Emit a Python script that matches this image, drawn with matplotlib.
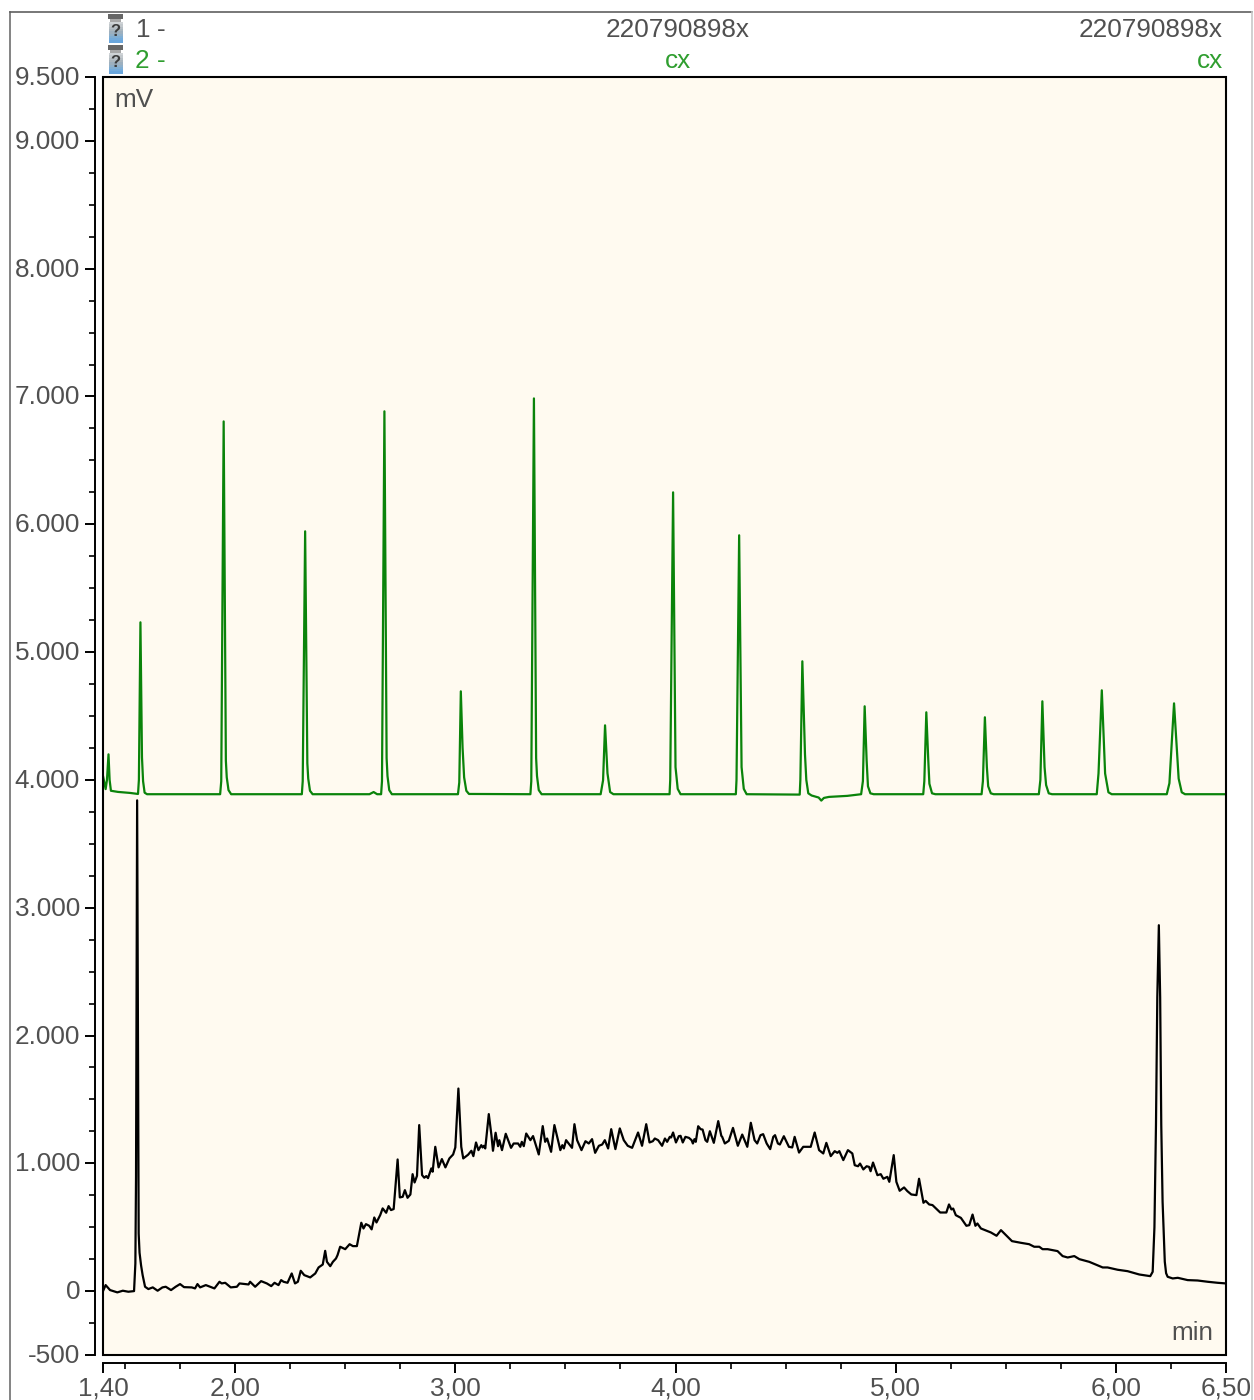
import matplotlib
matplotlib.use('Agg')
import matplotlib.pyplot as plt
from matplotlib.patches import Rectangle
from matplotlib.ticker import FixedLocator, FixedFormatter
from matplotlib.transforms import ScaledTranslation

plt.rcParams['font.family'] = ['Liberation Sans', 'DejaVu Sans']

W, H = 1254, 1400

# trace 1 (black), time in min and signal in mV
black_time = [
    1.400, 1.412, 1.432, 1.465, 1.490, 1.515, 1.541, 1.547, 1.550, 1.555, 1.559, 1.562, 1.566, 1.573, 1.580, 1.591,
    1.606, 1.626, 1.648, 1.670, 1.685, 1.709, 1.730, 1.750, 1.768, 1.803, 1.818, 1.829, 1.841, 1.867,
    1.906, 1.929, 1.939, 1.955, 1.980, 2.008, 2.020, 2.061, 2.068, 2.091, 2.118, 2.144, 2.164, 2.179,
    2.197, 2.209, 2.220, 2.238, 2.257, 2.272, 2.285, 2.298, 2.314, 2.341, 2.364, 2.379, 2.398, 2.409,
    2.417, 2.432, 2.444, 2.458, 2.465, 2.477, 2.500, 2.520, 2.535, 2.553, 2.565,
    2.573, 2.583, 2.594, 2.609, 2.620, 2.632, 2.642, 2.659, 2.670, 2.686, 2.697, 2.708, 2.720, 2.738,
    2.748, 2.761, 2.771, 2.783, 2.796, 2.806, 2.815, 2.826, 2.836, 2.849, 2.859, 2.868, 2.876, 2.891,
    2.897, 2.909, 2.924, 2.939, 2.955, 2.973, 2.990, 3.000, 3.014, 3.027, 3.036, 3.058, 3.073, 3.082,
    3.094, 3.105, 3.118, 3.124, 3.130, 3.136, 3.152, 3.164, 3.171, 3.183, 3.194, 3.200, 3.212, 3.229,
    3.253, 3.265, 3.285, 3.295, 3.302, 3.311, 3.322, 3.341, 3.353, 3.379, 3.397, 3.408, 3.417, 3.435,
    3.450, 3.477, 3.486, 3.493, 3.503, 3.530, 3.541, 3.553, 3.573, 3.591, 3.606, 3.621, 3.635, 3.652,
    3.667, 3.679, 3.694, 3.708, 3.727, 3.747, 3.765, 3.783, 3.803, 3.830, 3.848, 3.867, 3.882, 3.897,
    3.906, 3.921, 3.939, 3.952, 3.962, 3.974, 3.980, 3.989, 4.002, 4.015, 4.023, 4.033, 4.045, 4.061,
    4.073, 4.079, 4.086, 4.092, 4.103, 4.114, 4.123, 4.136, 4.144, 4.156, 4.174, 4.194, 4.208, 4.212,
    4.224, 4.242, 4.261, 4.283, 4.303, 4.326, 4.342, 4.359, 4.371, 4.386, 4.398, 4.414, 4.430, 4.444,
    4.452, 4.465, 4.474, 4.492, 4.515, 4.530, 4.541, 4.561, 4.580, 4.614, 4.632, 4.652, 4.671, 4.685,
    4.705, 4.723, 4.735, 4.744, 4.762, 4.783, 4.803, 4.814, 4.829, 4.838, 4.853, 4.868, 4.879, 4.886,
    4.897, 4.917, 4.932, 4.944, 4.962, 4.971, 4.991, 5.003, 5.018, 5.038, 5.053, 5.071, 5.094, 5.106,
    5.126, 5.136, 5.152, 5.167, 5.202, 5.230, 5.242, 5.253, 5.261, 5.273, 5.296, 5.321, 5.334, 5.349,
    5.362, 5.371, 5.387, 5.432, 5.458, 5.478, 5.528, 5.568, 5.606, 5.629, 5.652, 5.667, 5.690, 5.735,
    5.758, 5.781, 5.811, 5.834, 5.879, 5.940, 5.962, 6.008, 6.053, 6.106, 6.156, 6.167, 6.175, 6.182,
    6.188, 6.195, 6.201, 6.206, 6.212, 6.222, 6.228, 6.235, 6.258, 6.281, 6.326, 6.371, 6.417, 6.462, 6.500,
]
black_mv = [
    0, 47, 8, -10, 3, -5, 0, 216, 900, 3840, 2000, 450, 300, 200, 125, 34,
    16, 29, 3, 29, 34, 8, 34, 55, 31, 29, 21, 55, 29, 47,
    21, 73, 60, 65, 29, 34, 60, 52, 73, 34, 78, 60, 39, 65,
    47, 86, 73, 65, 138, 60, 73, 159, 125, 107, 138, 185, 208, 315,
    229, 195, 229, 255, 281, 347, 328, 367, 352, 352, 464,
    535, 490, 524, 511, 483, 576, 537, 595, 647, 613, 665, 634, 642, 1030,
    733, 738, 790, 730, 756, 915, 850, 902, 1299, 908, 887, 900, 884, 960,
    934, 1129, 968, 1033, 968, 1038, 1069, 1124, 1585, 1129, 1038, 1067, 1098, 1056,
    1163, 1103, 1142, 1124, 1137, 1116, 1385, 1220, 1098, 1239, 1134, 1181, 1103, 1231,
    1121, 1155, 1155, 1129, 1168, 1134, 1233, 1181, 1213, 1069, 1291, 1168, 1194, 1090,
    1299, 1103, 1142, 1116, 1181, 1121, 1306, 1181, 1103, 1173, 1155, 1189, 1082, 1137,
    1147, 1181, 1116, 1267, 1111, 1273, 1181, 1137, 1121, 1241, 1137, 1306, 1163, 1173,
    1194, 1181, 1137, 1194, 1168, 1207, 1202, 1241, 1163, 1212, 1215, 1163, 1207, 1199,
    1181, 1155, 1189, 1168, 1290, 1267, 1264, 1181, 1168, 1251, 1160, 1330, 1215, 1207,
    1155, 1176, 1277, 1137, 1225, 1129, 1317, 1181, 1155, 1220, 1228, 1155, 1111, 1207,
    1220, 1155, 1147, 1212, 1129, 1124, 1207, 1084, 1129, 1129, 1241, 1103, 1077, 1160,
    1056, 1095, 1082, 1095, 1025, 1103, 1077, 985, 977, 998, 952, 977, 972, 938,
    1006, 907, 915, 879, 894, 855, 1064, 855, 785, 811, 782, 756, 751, 879,
    691, 706, 678, 673, 615, 615, 678, 639, 646, 594, 573, 511, 516, 599,
    511, 529, 490, 459, 433, 477, 391, 378, 367, 347, 347, 328, 328, 313,
    274, 263, 274, 250, 229, 185, 185, 167, 156, 130, 117, 151, 500, 1300,
    2300, 2863, 2300, 1300, 700, 230, 140, 112, 99, 104, 86, 83, 73, 65, 60,
]

# trace 2 (green), time in min and signal in mV
green_time = [
    1.401, 1.412, 1.418, 1.425, 1.430, 1.436, 1.468, 1.523,
    1.559, 1.563, 1.570, 1.577, 1.582, 1.589, 1.600,
    1.932, 1.937, 1.948, 1.958, 1.962, 1.970, 1.982,
    2.303, 2.307, 2.318, 2.328, 2.332, 2.340, 2.352,
    2.610, 2.629, 2.645,
    2.663, 2.667, 2.678, 2.688, 2.692, 2.700, 2.712,
    3.012, 3.018, 3.025, 3.033, 3.040, 3.050, 3.062,
    3.341, 3.345, 3.357, 3.367, 3.371, 3.379, 3.392,
    3.660, 3.671, 3.680, 3.691, 3.703, 3.718,
    3.973, 3.976, 3.989, 4.000, 4.010, 4.023,
    4.274, 4.277, 4.289, 4.300, 4.310, 4.323,
    4.564, 4.567, 4.576, 4.588, 4.594, 4.603, 4.618, 4.636, 4.650, 4.662, 4.674, 4.697, 4.780, 4.843,
    4.851, 4.859, 4.868, 4.874, 4.885, 4.900,
    5.125, 5.130, 5.139, 5.148, 5.153, 5.165, 5.180,
    5.390, 5.396, 5.405, 5.414, 5.420, 5.432, 5.445,
    5.650, 5.657, 5.666, 5.676, 5.683, 5.695, 5.710,
    5.913, 5.921, 5.936, 5.951, 5.966, 5.981,
    6.231, 6.243, 6.264, 6.285, 6.299, 6.314, 6.500,
]
green_mv = [
    4023, 3928, 4000, 4200, 4000, 3915, 3906, 3898,
    3890, 4000, 5233, 4177, 3990, 3900, 3888,
    3888, 3990, 6805, 4150, 4020, 3920, 3888,
    3888, 3990, 5945, 4130, 4010, 3915, 3888,
    3888, 3905, 3888,
    3888, 3990, 6884, 4170, 4030, 3920, 3888,
    3888, 3980, 4693, 4250, 4020, 3915, 3890,
    3888, 3990, 6985, 4170, 4030, 3920, 3888,
    3888, 3997, 4427, 4052, 3905, 3888,
    3888, 4000, 6250, 4100, 3930, 3888,
    3888, 4000, 5914, 4100, 3930, 3888,
    3885, 4000, 4928, 4200, 4000, 3895, 3878, 3869, 3862, 3838, 3859, 3867, 3875, 3888,
    3990, 4576, 4150, 3950, 3895, 3888,
    3888, 3990, 4529, 4150, 3970, 3895, 3888,
    3888, 3990, 4490, 4100, 3950, 3895, 3888,
    3888, 4000, 4615, 4100, 3960, 3895, 3888,
    3888, 4050, 4701, 4050, 3903, 3888,
    3888, 3974, 4599, 4010, 3903, 3888, 3888,
]

y_major = [-500, 0, 1000, 2000, 3000, 4000, 5000, 6000, 7000, 8000, 9000, 9500]
y_labels = ['-500', '0', '1.000', '2.000', '3.000', '4.000', '5.000', '6.000', '7.000', '8.000', '9.000', '9.500']
y_minor = [-250, 250, 500, 750, 1250, 1500, 1750, 2250, 2500, 2750, 3250, 3500, 3750, 4250, 4500, 4750,
           5250, 5500, 5750, 6250, 6500, 6750, 7250, 7500, 7750, 8250, 8500, 8750, 9250]
x_major = [1.40, 2.00, 3.00, 4.00, 5.00, 6.00, 6.50]
x_labels = ['1,40', '2,00', '3,00', '4,00', '5,00', '6,00', '6,50']
x_minor = [1.50, 1.75, 2.25, 2.50, 2.75, 3.25, 3.50, 3.75, 4.25, 4.50, 4.75, 5.25, 5.50, 5.75, 6.25]

TEXT = '#505050'
GREEN = '#0a830a'
GREEN_TEXT = '#2f9e2f'
FS = 18.8

fig = plt.figure(figsize=(W / 100, H / 100), dpi=100, facecolor='white')

# plot area
ax = fig.add_axes([103 / W, 1 - 1355 / H, (1226 - 103) / W, (1355 - 77) / H], facecolor='#FFFAF0')
ax.plot(green_time, green_mv, color=GREEN, lw=1.6, solid_joinstyle='round')
ax.plot(black_time, black_mv, color='black', lw=1.6, solid_joinstyle='round')
ax.set_xlim(1.40, 6.50)
ax.set_ylim(-500, 9500)

for side in ['top', 'right']:
    ax.spines[side].set_visible(False)
for side in ['left', 'bottom']:
    ax.spines[side].set_position(('outward', 5.8))
    ax.spines[side].set_linewidth(1.4)

ax.yaxis.set_major_locator(FixedLocator(y_major))
ax.yaxis.set_major_formatter(FixedFormatter(y_labels))
ax.yaxis.set_minor_locator(FixedLocator(y_minor))
ax.xaxis.set_major_locator(FixedLocator(x_major))
ax.xaxis.set_major_formatter(FixedFormatter(x_labels))
ax.xaxis.set_minor_locator(FixedLocator(x_minor))
ax.tick_params(which='major', length=7.2, width=1.4, labelsize=FS, labelcolor=TEXT)
ax.tick_params(which='minor', length=4.3, width=1.2)
ax.tick_params(axis='y', which='major', pad=3.5)
ax.tick_params(axis='x', which='major', pad=2.2)

# the y labels sit a little above their ticks in the original
up = ScaledTranslation(0, 1.5 / 100, fig.dpi_scale_trans)
for lab in ax.get_yticklabels():
    lab.set_transform(lab.get_transform() + up)

# box around the plot area
ax.add_patch(Rectangle((0, 0), 1, 1, transform=ax.transAxes, fill=False, edgecolor='black', lw=1.5, clip_on=False, zorder=5))

# header and frame in pixel coordinates
over = fig.add_axes([0, 0, 1, 1], facecolor='none')
over.set_xlim(0, W)
over.set_ylim(H, 0)
over.axis('off')
over.plot([10, 10], [12, H], color='#6e6e6e', lw=1.2)
over.plot([10, 1252], [12, 12], color='#606060', lw=1.2)
over.plot([1252, 1252], [12, H], color='#c8c8c8', lw=1.2)

vial_shades = ['#cfd3d6', '#c2c8cc', '#b6bec4', '#aab6be', '#9db0bf', '#90b0c9', '#80aed3', '#74abdb', '#6aa6dc']


def vial(top):
    over.add_patch(Rectangle((108, top), 15, 5, color='#666666', lw=0))
    over.add_patch(Rectangle((110, top + 5), 11, 3, color='#a8a8a8', lw=0))
    for i, shade in enumerate(vial_shades):
        over.add_patch(Rectangle((108.5, top + 8 + i * 2.3), 14, 2.4, color=shade, lw=0))
    over.text(115.5, top + 17.5, '?', color='#3c3c3c', fontsize=12, fontweight='bold', ha='center', va='center')


vial(14)
vial(45)

over.text(136, 30, '1', color=TEXT, fontsize=FS, ha='left', va='center')
over.text(157, 30, '-', color=TEXT, fontsize=FS, ha='left', va='center')
over.text(135, 61, '2', color=GREEN_TEXT, fontsize=FS, ha='left', va='center')
over.text(157, 61, '-', color=GREEN_TEXT, fontsize=FS, ha='left', va='center')
over.text(678, 30, '220790898x', color=TEXT, fontsize=FS, ha='center', va='center')
over.text(1223, 30, '220790898x', color=TEXT, fontsize=FS, ha='right', va='center')
over.text(678, 61, 'cx', color=GREEN_TEXT, fontsize=FS, ha='center', va='center')
over.text(1223, 61, 'cx', color=GREEN_TEXT, fontsize=FS, ha='right', va='center')
over.text(114, 100, 'mV', color=TEXT, fontsize=FS, ha='left', va='center')
over.text(1213, 1333, 'min', color=TEXT, fontsize=FS, ha='right', va='center')

fig.savefig('out.png', dpi=100)
